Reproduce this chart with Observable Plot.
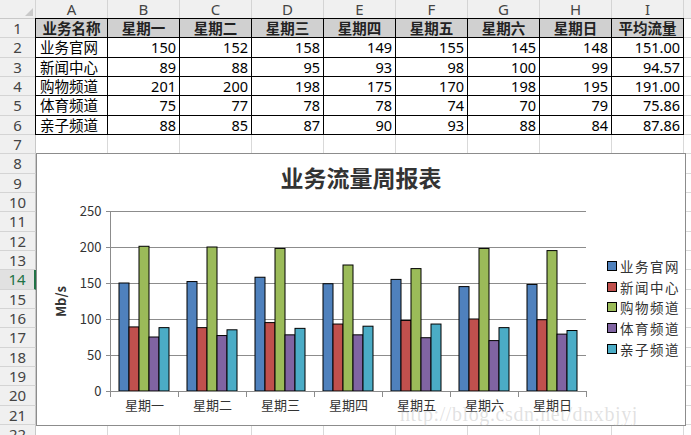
<!DOCTYPE html>
<html><head><meta charset="utf-8">
<script src="https://cdn.jsdelivr.net/npm/d3@7"></script>
<script src="https://cdn.jsdelivr.net/npm/@observablehq/plot@0.6"></script>
<style>
body{margin:0;width:691px;height:435px;overflow:hidden;background:#fff;font-family:"Noto Sans","Noto Sans CJK SC",sans-serif;}
#sheet{position:absolute;left:0;top:0;width:691px;height:435px;}
.c{position:absolute;box-sizing:border-box;white-space:nowrap;overflow:hidden;}
#chart{position:absolute;left:36px;top:153px;width:650px;height:273px;box-sizing:border-box;border:1px solid #8c8c8c;background:#fff;}
</style></head>
<body>
<div id="sheet"></div>
<div id="chart"></div>
<script>
// ---- data ----
const columnLetters = ["A","B","C","D","E","F","G","H","I"];
const nameHeader = "业务名称";
const categories = ["星期一","星期二","星期三","星期四","星期五","星期六","星期日"];
const avgHeader = "平均流量";
const series = ["业务官网","新闻中心","购物频道","体育频道","亲子频道"];
const v业务官网 = [150,152,158,149,155,145,148];
const v新闻中心 = [89,88,95,93,98,100,99];
const v购物频道 = [201,200,198,175,170,198,195];
const v体育频道 = [75,77,78,78,74,70,79];
const v亲子频道 = [88,85,87,90,93,88,84];
const averages = ["151.00","94.57","191.00","75.86","87.86"];
const yTicks = [0,50,100,150,200,250];
const chartTitle = "业务流量周报表";
const yLabel = "Mb/s";
const watermark = "http://blog.csdn.net/dnxbjyj";
const colors = ["#4F81BD","#C0504D","#9BBB59","#8064A2","#4BACC6"];
const values = [v业务官网,v新闻中心,v购物频道,v体育频道,v亲子频道];

// ---- spreadsheet ----
const sheet = document.getElementById("sheet");
const rowTop = i => 19 + (i-1)*19.33;
const colLeft = j => 36 + j*72;
function cell(x,y,w,h,text,style){
  const d=document.createElement("div");d.className="c";
  d.style.left=x+"px";d.style.top=y+"px";d.style.width=w+"px";d.style.height=h+"px";
  Object.assign(d.style,style||{});
  if(text!=null){d.textContent=text;}
  sheet.appendChild(d);return d;
}
// corner
cell(0,0,36,19,null,{background:"#f0f0f0",borderRight:"1px solid #d4d4d4",borderBottom:"1px solid #c8c8c8"});
const tri=document.createElement("div");
Object.assign(tri.style,{position:"absolute",left:"25px",top:"8px",width:"0",height:"0",borderLeft:"8px solid transparent",borderBottom:"8px solid #c9c9c9"});
sheet.appendChild(tri);
// column headers
columnLetters.forEach((L,j)=>cell(colLeft(j),0,72,19,L,{background:"#f0f0f0",borderRight:"1px solid #d4d4d4",borderBottom:"1px solid #c8c8c8",textAlign:"center",fontSize:"15px",lineHeight:"19px",color:"#444"}));
cell(colLeft(9),0,10,19,null,{background:"#f0f0f0",borderBottom:"1px solid #c8c8c8"});
// row headers and empty grid
for(let i=1;i<=22;i++){
  const y=rowTop(i), h=19.33;
  const sel = i===14;
  cell(0,y,36,h,String(i),{background:sel?"#e1e1e1":"#f0f0f0",borderBottom:"1px solid #d4d4d4",borderRight:sel?"2px solid #217346":"1px solid #c8c8c8",textAlign:"center",fontSize:"15px",lineHeight:"19px",color:sel?"#217346":"#444"});
  for(let j=0;j<=9;j++){
    cell(colLeft(j),y,72,h,null,{borderRight:"1px solid #d9d9d9",borderBottom:"1px solid #d9d9d9"});
  }
}
// table header row
const headerRow=[nameHeader,...categories,avgHeader];
headerRow.forEach((t,j)=>cell(colLeft(j),rowTop(1),72,19.33,t,{background:"#d0d0d0",fontWeight:"bold",fontSize:"14.5px",lineHeight:"19px",textAlign:"center",color:"#222",border:"1px solid #000",marginLeft:"-1px",marginTop:"-1px",width:"73px",height:"20.33px"}));
series.forEach((s,r)=>{
  const row=[s,...values[r],averages[r]];
  row.forEach((t,j)=>cell(colLeft(j),rowTop(r+2),72,19.33,String(t),{background:"#fff",fontSize:"14.5px",lineHeight:"18px",textAlign:j===0?"left":"right",padding:j===0?"0 0 0 4px":"0 3px 0 0",color:"#000",border:"1px solid #000",marginLeft:"-1px",marginTop:"-1px",width:"73px",height:"20.33px"}));
});

// ---- chart ----
const chart=document.getElementById("chart");
const data = series.flatMap((s,i)=>categories.map((c,j)=>({day:c,series:s,value:values[i][j]})));
const plot = Plot.plot({
  width:648, height:271,
  marginLeft:71, marginRight:98, marginTop:57, marginBottom:34,
  style:{fontFamily:"'Noto Sans CJK SC','Noto Sans',sans-serif",fontSize:"13px",color:"#333",background:"transparent",overflow:"visible"},
  fx:{domain:categories,padding:0,label:null},
  x:{domain:series,paddingInner:0,paddingOuter:0.73,axis:null},
  y:{domain:[0,250]},
  color:{domain:series,range:colors},
  marks:[
    Plot.gridY(yTicks,{stroke:"#8c8c8c",strokeOpacity:1}),
    Plot.axisY(yTicks,{tickSize:4,tickPadding:5,stroke:"#8c8c8c",fill:"#333",label:null}),
    Plot.axisY([],{tickSize:0,label:yLabel,labelAnchor:"center",labelArrow:"none",labelOffset:54,fontWeight:"bold",fill:"#333"}),
    Plot.axisFx({anchor:"bottom",tickSize:0,tickPadding:9,label:null,fill:"#333"}),
    Plot.barY(data,{fx:"day",x:"series",y:"value",fill:"series",stroke:"#000",strokeWidth:1}),
    Plot.ruleY([0],{stroke:"#8c8c8c"}),
    Plot.frame({anchor:"left",facetAnchor:"left",stroke:"#8c8c8c"}),
    Plot.frame({anchor:"left",insetTop:180,insetBottom:-5,stroke:"#8c8c8c"}),
    Plot.frame({anchor:"right",insetTop:180,insetBottom:-5,stroke:"#8c8c8c"})
  ]
});
plot.style.position="absolute";plot.style.left="0px";plot.style.top="0px";
chart.appendChild(plot);
// title
const title=document.createElement("div");
Object.assign(title.style,{position:"absolute",left:"-1px",width:"650px",top:"8px",textAlign:"center",fontSize:"23px",fontWeight:"bold",color:"#333",fontFamily:"'Noto Sans CJK SC',sans-serif",lineHeight:"30px"});
title.textContent=chartTitle;chart.appendChild(title);
// legend
series.forEach((s,i)=>{
  const row=document.createElement("div");
  Object.assign(row.style,{position:"absolute",left:"570px",top:(102+i*20.7)+"px",height:"20px",display:"flex",alignItems:"center",fontSize:"13.5px",color:"#333",letterSpacing:"1.5px",fontFamily:"'Noto Sans CJK SC',sans-serif"});
  const sw=document.createElement("span");
  Object.assign(sw.style,{display:"inline-block",width:"10px",height:"10px",boxSizing:"border-box",border:"1px solid #000",background:colors[i],marginRight:"3px"});
  row.appendChild(sw);
  const t=document.createElement("span");t.textContent=s;row.appendChild(t);
  chart.appendChild(row);
});
// watermark
const wm=document.createElement("div");
Object.assign(wm.style,{position:"absolute",left:"400px",top:"403px",fontSize:"20px",fontFamily:"'Liberation Serif',serif",color:"rgba(170,170,170,0.35)",letterSpacing:"0.6px",whiteSpace:"nowrap"});
wm.textContent=watermark;document.body.appendChild(wm);
</script>
</body></html>
